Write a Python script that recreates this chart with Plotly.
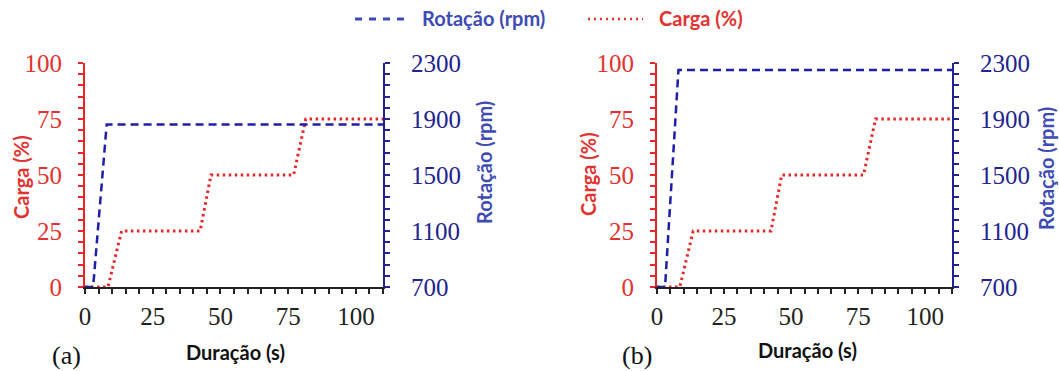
import plotly.graph_objects as go

# ---- data ----
t_rot = [0, 3, 8, 110]
rot_a = [700, 700, 1860, 1860]
rot_b = [700, 700, 2250, 2250]
t_carga = [0, 8.5, 13.5, 42.5, 46.5, 77, 81.5, 110]
carga = [0, 0, 25, 25, 50, 50, 75, 75]

x_ticks = [0, 25, 50, 75, 100]
carga_ticks = [0, 25, 50, 75, 100]
rot_ticks = [700, 1100, 1500, 1900, 2300]

W, H = 1059, 371
BLUE = "#1e1ea8"
BLUE_TXT = "#3d4bb5"
RED = "#e8262a"
RED_TXT = "#e2322f"
NAVY = "#23238f"
SERIF = "Liberation Serif"
SANS = "Lato"
TSIZE = 20

def px(x):
    return x / W

def py(y):
    return 1 - y / H

fig = go.Figure()

panels = [
    dict(xa="x", ya="y", ya2="y2", rot=rot_a),
    dict(xa="x2", ya="y3", ya2="y4", rot=rot_b),
]
for p in panels:
    fig.add_trace(go.Scatter(x=t_rot, y=p["rot"], mode="lines", xaxis=p["xa"], yaxis=p["ya2"],
                             line=dict(color=BLUE, width=2.5, dash="8px,5px"), showlegend=False))
    fig.add_trace(go.Scatter(x=t_carga, y=carga, mode="lines", xaxis=p["xa"], yaxis=p["ya"],
                             line=dict(color=RED, width=3, dash="2.5px,3.5px"), showlegend=False))

ydom = [py(287), py(63)]
xdoms = [[px(85), px(383)], [px(657), px(952)]]

def xaxis(dom, anchor):
    return dict(domain=dom, anchor=anchor, range=[0, 110], tickvals=x_ticks, automargin=False,
                ticks="outside", ticklen=5, tickwidth=1.5, tickcolor="#222",
                minor=dict(dtick=5, tick0=0, ticks="outside", ticklen=5, tickwidth=1.5, tickcolor="#222"),
                showline=True, linecolor="#222", linewidth=2, showgrid=False, zeroline=False,
                tickfont=dict(family=SERIF, size=25, color="#222"), ticklabelstandoff=1,
                layer="below traces", fixedrange=True)

def yleft(anchor):
    return dict(domain=ydom, anchor=anchor, range=[0, 100], tickvals=carga_ticks, automargin=False,
                ticks="outside", ticklen=5, tickwidth=1.5, tickcolor=RED,
                minor=dict(dtick=5, tick0=0, ticks="outside", ticklen=5, tickwidth=1.5, tickcolor=RED),
                showline=True, linecolor=RED, linewidth=2, showgrid=False, zeroline=False,
                tickfont=dict(family=SERIF, size=25, color=RED_TXT), ticklabelstandoff=11,
                layer="below traces", fixedrange=True)

def yright(anchor, over):
    return dict(domain=ydom, anchor=anchor, overlaying=over, side="right", range=[700, 2300],
                tickvals=rot_ticks, ticks="outside", ticklen=5, tickwidth=1.5, tickcolor=NAVY,
                minor=dict(dtick=80, tick0=700, ticks="outside", ticklen=5, tickwidth=1.5, tickcolor=NAVY),
                showline=True, linecolor=NAVY, linewidth=2, showgrid=False, zeroline=False,
                tickfont=dict(family=SERIF, size=25, color=NAVY), ticklabelstandoff=16, automargin=False,
                layer="below traces", fixedrange=True)

fig.update_layout(
    width=W, height=H, margin=dict(l=0, r=0, t=0, b=0, autoexpand=False),
    paper_bgcolor="white", plot_bgcolor="white", showlegend=False,
    xaxis=xaxis(xdoms[0], "y"), yaxis=yleft("x"), yaxis2=yright("x", "y"),
    xaxis2=xaxis(xdoms[1], "y3"), yaxis3=yleft("x2"), yaxis4=yright("x2", "y3"),
)

ann = []
def text(x, y, s, size, color, family, angle=0, xanchor="center"):
    ann.append(dict(x=px(x), y=py(y), xref="paper", yref="paper", text=s, showarrow=False,
                    font=dict(family=family, size=size, color=color), textangle=angle,
                    xanchor=xanchor, yanchor="middle"))

# axis titles
text(235, 352, "<b>Duração (s)</b>", TSIZE, "#111", SANS)
text(807, 350, "<b>Duração (s)</b>", TSIZE, "#111", SANS)
text(21, 177, "<b>Carga (%)</b>", TSIZE, RED_TXT, SANS, -90)
text(588, 174, "<b>Carga (%)</b>", TSIZE, RED_TXT, SANS, -90)
text(484, 163, "<b>Rotação (rpm)</b>", TSIZE, BLUE_TXT, SANS, -90)
text(1046, 169, "<b>Rotação (rpm)</b>", TSIZE, BLUE_TXT, SANS, -90)
# panel labels
text(66, 355, "(a)", 26, "#111", SERIF)
text(637, 355, "(b)", 26, "#111", SERIF)
# legend
text(420, 18, "<b>Rotação (rpm)</b>", TSIZE, BLUE_TXT, SANS, xanchor="left")
text(657, 18, "<b>Carga (%)</b>", TSIZE, RED_TXT, SANS, xanchor="left")
fig.update_layout(annotations=ann)

fig.add_shape(type="line", xref="paper", yref="paper", x0=px(355), x1=px(410), y0=py(19), y1=py(19),
              line=dict(color=BLUE_TXT, width=3, dash="7px,7px"))
fig.add_shape(type="line", xref="paper", yref="paper", x0=px(588), x1=px(643), y0=py(19), y1=py(19),
              line=dict(color=RED_TXT, width=2.5, dash="2px,4px"))

fig.write_html("out.html")
